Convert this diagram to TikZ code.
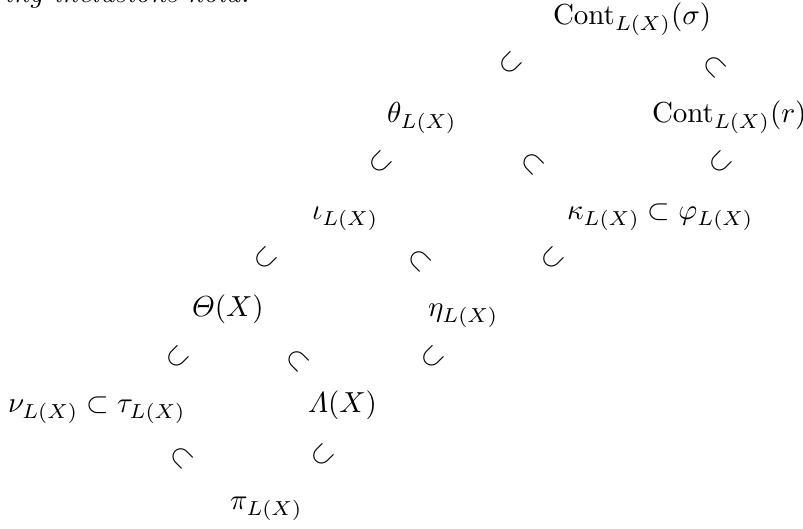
\documentclass[tikz,border=0pt]{standalone}
\usepackage{amsmath}
\tikzset{
  obj/.style={anchor=base west, inner sep=0pt, outer sep=0pt},
  incup/.style={inner sep=0pt, outer sep=0pt, rotate=45},
  incdown/.style={inner sep=0pt, outer sep=0pt, rotate=-45},
}
\begin{document}
\begin{tikzpicture}[x=0.345pt, y=-0.345pt]
\useasboundingbox (0,0) rectangle (803,529);
% cut-off running text
\node[anchor=base east, inner sep=0pt] (txt) at (250,3) {\textit{ing inclusions hold:}};
% objects
\node[obj] (contsigma) at (553,25) {$\mathrm{Cont}_{L(X)}(\sigma)$};
\node[obj] (theta) at (387,123) {$\theta_{L(X)}$};
\node[obj] (contr) at (652,123) {$\mathrm{Cont}_{L(X)}(r)$};
\node[obj] (iota) at (312,220) {$\iota_{L(X)}$};
\node[obj] (kappa) at (567,220) {$\kappa_{L(X)}\subset\varphi_{L(X)}$};
\node[obj] (Theta) at (192,317) {$\varTheta(X)$};
\node[obj] (eta) at (428,317) {$\eta_{L(X)}$};
\node[obj] (nu) at (8,413) {$\nu_{L(X)}\subset\tau_{L(X)}$};
\node[obj] (Lambda) at (308,413) {$\varLambda(X)$};
\node[obj] (pi) at (230,510) {$\pi_{L(X)}$};
% rotated inclusions
\node[incup] (i1) at (510,63) {$\subset$};
\node[incdown] (i2) at (715,66) {$\subset$};
\node[incup] (i3) at (380,162) {$\subset$};
\node[incdown] (i4) at (533,163) {$\subset$};
\node[incup] (i5) at (720,162) {$\subset$};
\node[incup] (i6) at (265,258) {$\subset$};
\node[incdown] (i7) at (420,260) {$\subset$};
\node[incup] (i8) at (552,258) {$\subset$};
\node[incup] (i9) at (177,357) {$\subset$};
\node[incdown] (i10) at (298,360) {$\subset$};
\node[incup] (i11) at (432,357) {$\subset$};
\node[incdown] (i12) at (182,457) {$\subset$};
\node[incup] (i13) at (322,455) {$\subset$};
\end{tikzpicture}
\end{document}
